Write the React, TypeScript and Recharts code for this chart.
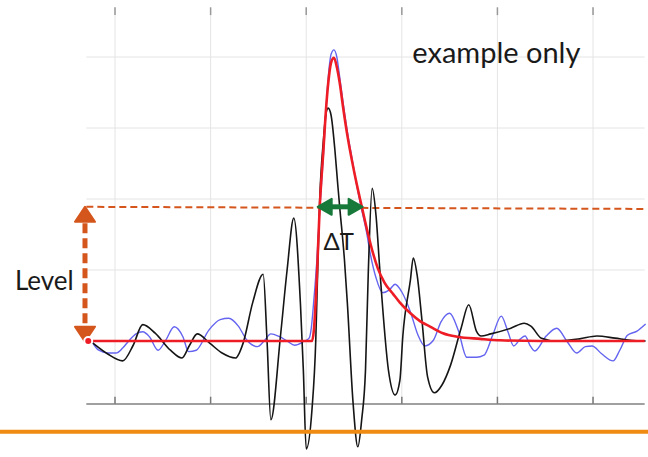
import React from "react";
import { LineChart, Line, XAxis, YAxis, ReferenceLine, ReferenceDot } from "recharts";

// time axis: grid every 10 units; amplitude: grid every 10 units, 0 = baseline
const gridTimes = [0, 10, 20, 30, 40, 50];
const gridLevels = [0, 10, 20, 30, 40];

// fitted model pulse (red)
const modelPulse: [number, number][] = [
  [-2.8, 0], [20.6, 0], [20.8, 1.5], [21.1, 8.6], [21.4, 18.5], [21.8, 26.9],
  [22.1, 33.2], [22.4, 37.5], [22.6, 39.2], [22.9, 39.9], [23.2, 38.6], [23.5, 36.4],
  [23.85, 33.0], [24.3, 29.0], [24.8, 25.3], [25.3, 22.0], [25.8, 19.0], [26.5, 14.9],
  [27.0, 12.3], [27.5, 10.2], [28.2, 8.2], [29.1, 6.6], [29.8, 5.4], [30.9, 3.9],
  [31.9, 2.8], [33.0, 2.0], [34.3, 1.1], [35.8, 0.6], [38.2, 0.3], [40.3, 0.1],
  [44.5, 0], [55.4, 0],
];

// measured envelope (blue)
const envelope: [number, number][] = [
  [-2.5, 0.1], [-1.7, -1.3], [-0.7, -1.7], [0.1, -1.7], [0.8, -1.0], [1.5, 0.1],
  [2.2, 1.0], [2.9, 1.3], [3.6, 0.6], [4.5, -1.3], [5.3, 0.1], [6.2, 2.0],
  [7.1, 0.6], [7.7, -1.5], [8.5, -1.3], [9.8, 1.5], [11.0, 3.0], [11.9, 3.2],
  [12.9, 2.1], [13.8, 0.1], [14.9, -0.8], [15.6, 0], [16.3, 1.0], [17.2, 0.6],
  [18.0, 0], [18.8, -0.6], [19.7, -0.1], [20.3, 0.4], [20.5, 1.5], [20.8, 5.8],
  [21.1, 11.1], [21.4, 18.2], [21.8, 26.2], [22.1, 33.2], [22.4, 38.5], [22.6, 40.4],
  [22.9, 41.0], [23.2, 40.0], [23.5, 37.2], [23.85, 33.6], [24.3, 29.5], [24.8, 25.6],
  [25.3, 21.8], [25.8, 18.5], [26.3, 15.4], [26.7, 12.3], [27.3, 8.9], [28.0, 6.8],
  [28.7, 7.2], [29.3, 8.0], [30.0, 6.9], [30.9, 4.1], [31.7, 0.8], [32.4, -0.7],
  [33.3, 0.1], [34.1, 2.7], [35.0, 3.9], [35.9, 1.5], [36.8, -2.3], [37.8, -2.3],
  [38.6, -2.0], [39.5, 0.8], [40.4, 3.5], [41.1, 1.3], [41.7, -0.7], [42.4, 0.3],
  [42.9, 0.7], [43.4, -0.6], [43.9, -1.4], [45.1, 0.7], [46.2, 1.8], [47.3, -0.1],
  [48.3, -1.7], [49.2, -0.8], [49.9, -0.7], [50.9, -1.8], [52.1, -2.8], [52.8, -1.3],
  [53.6, 0.8], [54.6, 1.4], [55.5, 2.4],
];

// raw signal (black)
const rawSignal: [number, number][] = [
  [-2.5, -0.1], [-0.8, -1.8], [0.8, -2.8], [1.9, -0.6], [2.9, 2.3], [4.2, 1.1],
  [5.8, -1.3], [7.0, -2.4], [7.8, -0.6], [8.6, 1.0], [9.9, -0.3], [11.2, -1.7],
  [12.6, -2.4], [13.4, -0.3], [14.4, 5.4], [15.5, 9.4], [15.9, 0.1], [16.3, -11.1],
  [17.3, 0.6], [18.0, 10.0], [18.7, 17.3], [19.4, 5.1], [19.7, -4.1], [20.0, -15.2],
  [20.6, -9.7], [21.0, 0.1], [21.2, 10.0], [21.4, 19.4], [21.8, 28.3], [22.1, 32.3],
  [22.3, 32.8], [22.6, 31.8], [23.0, 26.9], [23.3, 22.0], [23.5, 18.9], [24.0, 11.4],
  [24.3, 5.4], [24.9, -8.7], [25.4, -14.9], [25.8, -11.1], [26.2, -4.1], [26.5, 10.0],
  [26.9, 21.5], [27.3, 17.7], [27.7, 10.0], [28.6, -4.1], [29.3, -7.6], [29.8, -5.5],
  [30.1, 0.6], [30.9, 8.6], [31.2, 11.7], [31.6, 9.3], [32.1, 3.0], [32.7, -5.1],
  [33.4, -7.3], [34.2, -6.2], [35.1, -3.4], [36.2, 1.8], [37.0, 5.1], [37.8, 1.4],
  [38.3, 0.7], [39.3, 1.0], [41.4, 1.8], [42.8, 2.5], [43.5, 2.1], [44.6, 0.4],
  [46.2, 0], [48.6, 0.3], [50.4, 0.7], [52.3, 0.4], [53.9, 0.1], [55.5, 0],
];

const toRows = (pts: [number, number][]) => pts.map(([t, a]) => ({ t, a }));

const ORANGE_RED = "#d4561c";
const GREEN = "#17793a";
const FONT = "Lato, 'Open Sans', sans-serif";

const arrowHead = (dir: "up" | "down" | "left" | "right", len: number, half: number, color: string) =>
  (props: any) => {
    const { cx, cy } = props;
    let d = "";
    if (dir === "up") d = `M${cx},${cy} L${cx + half},${cy + len} L${cx - half},${cy + len} Z`;
    if (dir === "down") d = `M${cx},${cy} L${cx + half},${cy - len} L${cx - half},${cy - len} Z`;
    if (dir === "left") d = `M${cx},${cy} L${cx + len},${cy - half} L${cx + len},${cy + half} Z`;
    if (dir === "right") d = `M${cx},${cy} L${cx - len},${cy - half} L${cx - len},${cy + half} Z`;
    return <path d={d} fill={color} stroke={color} strokeWidth={2} strokeLinejoin="round" />;
  };

const label = (text: string, size: number, anchor: "start" | "middle") => (props: any) => (
  <text x={props.cx} y={props.cy} textAnchor={anchor} fontSize={size} fontFamily={FONT} fill="#1a1a1a">
    {text}
  </text>
);

export default function App() {
  return (
    <div style={{ position: "absolute", left: 0, top: 0, width: 648, height: 457, background: "#fff" }}>
      <LineChart width={648} height={457} margin={{ top: 0, right: 0, bottom: 0, left: 0 }}>
        <XAxis type="number" dataKey="t" domain={[-12.03, 55.75]} allowDataOverflow hide />
        <YAxis type="number" dataKey="a" domain={[-16.34, 48.03]} allowDataOverflow hide />

        {gridLevels.map((v) => (
          <ReferenceLine key={`h${v}`} segment={[{ x: -3.0, y: v }, { x: 55.4, y: v }]} stroke="#e4e4e4" strokeWidth={1} />
        ))}
        {gridTimes.map((t) => (
          <ReferenceLine key={`v${t}`} segment={[{ x: t, y: 47.0 }, { x: t, y: -8.87 }]} stroke="#e4e4e4" strokeWidth={1} />
        ))}
        {gridTimes.map((t) => (
          <ReferenceLine key={`bt${t}`} segment={[{ x: t, y: -8.87 }, { x: t, y: -7.85 }]} stroke="#777" strokeWidth={1.5} />
        ))}
        {gridTimes.map((t) => (
          <ReferenceLine key={`tt${t}`} segment={[{ x: t, y: 47.0 }, { x: t, y: 45.9 }]} stroke="#999" strokeWidth={1.5} />
        ))}
        <ReferenceLine segment={[{ x: -3.0, y: -8.87 }, { x: 55.4, y: -8.87 }]} stroke="#808080" strokeWidth={1.5} />

        {/* level threshold */}
        <ReferenceLine segment={[{ x: -3.0, y: 18.9 }, { x: 55.4, y: 18.6 }]} stroke={ORANGE_RED} strokeWidth={2} strokeDasharray="7 4" />

        <Line data={toRows(envelope)} dataKey="a" type="monotone" stroke="#6464f0" strokeWidth={1.4} dot={false} isAnimationActive={false} />
        <Line data={toRows(rawSignal)} dataKey="a" type="monotone" stroke="#151515" strokeWidth={1.6} dot={false} isAnimationActive={false} />
        <Line data={toRows(modelPulse)} dataKey="a" type="monotone" stroke="#ee1c25" strokeWidth={2.6} dot={false} isAnimationActive={false} />

        {/* Level arrow */}
        <ReferenceLine segment={[{ x: -3.14, y: 16.6 }, { x: -3.14, y: 2.2 }]} stroke={ORANGE_RED} strokeWidth={5} strokeDasharray="10 5" />
        <ReferenceDot x={-3.14} y={18.9} r={1} shape={arrowHead("up", 15, 10, ORANGE_RED)} />
        <ReferenceDot x={-3.14} y={-0.1} r={1} shape={arrowHead("down", 15, 10, ORANGE_RED)} />

        {/* ΔT arrow */}
        <ReferenceLine segment={[{ x: 22.5, y: 18.9 }, { x: 24.6, y: 18.9 }]} stroke={GREEN} strokeWidth={5} />
        <ReferenceDot x={21.2} y={18.9} r={1} shape={arrowHead("left", 14, 8, GREEN)} />
        <ReferenceDot x={25.9} y={18.9} r={1} shape={arrowHead("right", 14, 8, GREEN)} />

        {/* orange reference line */}
        <ReferenceLine y={-12.8} stroke="#ef8a12" strokeWidth={4} />

        <ReferenceDot x={-7.4} y={7.2} r={1} shape={label("Level", 26, "middle")} />
        <ReferenceDot x={23.4} y={12.8} r={1} shape={label("ΔT", 24, "middle")} />
        <ReferenceDot x={31.1} y={39.15} r={1} shape={label("example only", 29, "start")} />
      </LineChart>
    </div>
  );
}
